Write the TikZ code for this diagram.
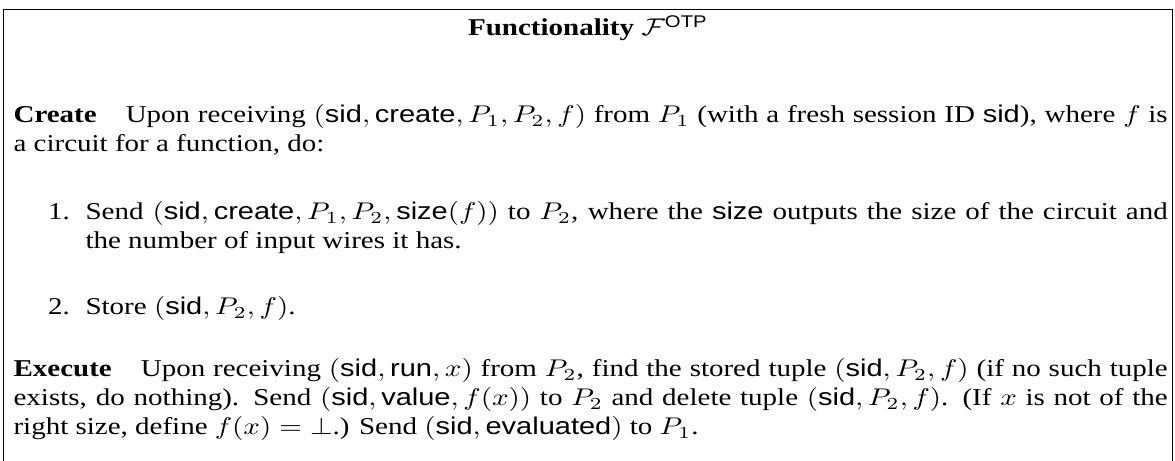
\documentclass[tikz,border=0pt]{standalone}
\usepackage{amsmath}
\usepackage{amssymb}
\usepackage[no-math]{fontspec}
\setmainfont{Liberation Serif}
\setsansfont{Liberation Sans}
\usepackage{tikz}

\newcommand{\fn}[1]{\textsf{#1}}

\begin{document}
\begin{tikzpicture}[x=1pt, y=1pt, yscale=0.833, transform shape,
    para/.style={anchor=base west, inner sep=0pt, text width=398pt, align=justify},
    itemtext/.style={anchor=base west, inner sep=0pt, text width=373.2pt, align=justify},
    itemlabel/.style={anchor=base east, inner sep=0pt}]
          \useasboundingbox (0,0) rectangle (405.17,-190.7);

          % frame, open at the bottom
          \coordinate (BL) at (1.2,-190.7);
          \coordinate (TL) at (1.2,-4.1);
          \coordinate (TR) at (404.3,-4.1);
          \coordinate (BR) at (404.3,-190.7);
          \draw[line width=0.4pt] (BL) -- (TL) -- (TR) -- (BR);

          \node[anchor=base, inner sep=0pt](T) at (202.8,-14.9) {\textbf{Functionality} $\mathcal{F}^{\fn{OTP}}$};

          \node[para](C1) at (4.48,-50.9) {\textbf{Create}\quad Upon receiving $(\fn{sid},\fn{create},P_1,P_2,f)$ from $P_1$ (with a fresh session ID \fn{sid}), where $f$ is\linebreak a circuit for a function, do:};

          \node[itemlabel](L1) at (24.3,-91.0) {1.};
          \node[itemtext ](I1) at (29.3,-91.0) {Send $(\fn{sid},\fn{create},P_1,P_2,\fn{size}(f))$ to $P_2$, where the \fn{size} outputs the size of the circuit and\linebreak the number of input wires it has.};

          \node[itemlabel](L2) at (24.3,-130.3) {2.};
          \node[itemtext ](I2) at (29.3,-130.3) {Store $(\fn{sid},P_2,f)$.};

          \node[para](E1) at (4.48,-156.0) {\textbf{Execute}\quad Upon receiving $(\fn{sid},\fn{run},x)$ from $P_2$, find the stored tuple $(\fn{sid},P_2,f)$ (if no such tuple\linebreak exists, do nothing). Send $(\fn{sid},\fn{value},f(x))$ to $P_2$ and delete tuple $(\fn{sid},P_2,f)$. (If $x$ is not of the\linebreak right size, define $f(x)=\bot$.) Send $(\fn{sid},\fn{evaluated})$ to $P_1$.};
        \end{tikzpicture}
\end{document}
